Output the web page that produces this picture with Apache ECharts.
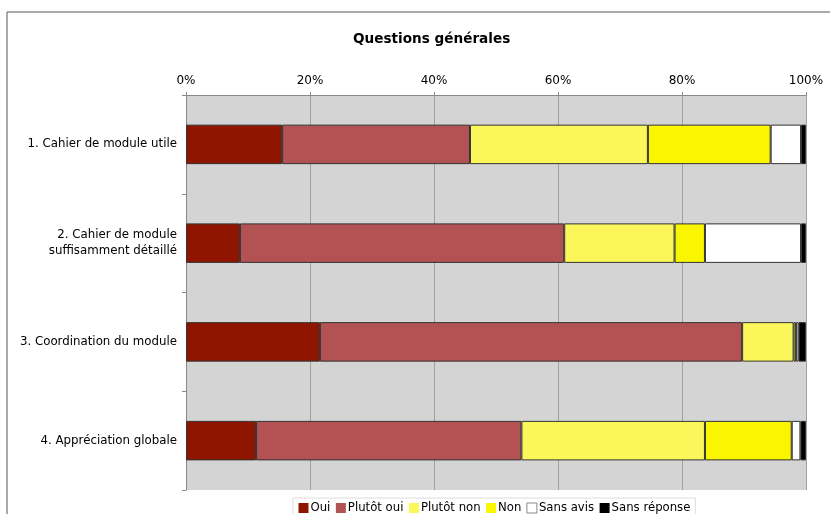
<!DOCTYPE html>
<html><head><meta charset="utf-8">
<script src="https://cdn.jsdelivr.net/npm/echarts@6/dist/echarts.min.js"></script>
<style>html,body{margin:0;padding:0;background:#fff}#c{width:830px;height:514px}</style>
</head><body><div id="c"></div>
<script>
const categories = ["1. Cahier de module utile", "2. Cahier de module\nsuffisamment détaillé", "3. Coordination du module", "4. Appréciation globale"];
const seriesNames = ["Oui", "Plutôt oui", "Plutôt non", "Non", "Sans avis", "Sans réponse"];
const oui = [15.5, 8.7, 21.6, 11.3];
const plutotOui = [30.3, 52.3, 68.1, 42.8];
const plutotNon = [28.7, 17.8, 8.3, 29.6];
const non = [19.8, 4.9, 0.4, 14.0];
const sansAvis = [4.9, 15.5, 0.4, 1.4];
const sansReponse = [0.8, 0.8, 1.2, 0.9];
const tickLabels = ["0%", "20%", "40%", "60%", "80%", "100%"];
const colors = ["#8f1500", "#b25252", "#fbf75a", "#faf600", "#ffffff", "#000000"];
const values = [oui, plutotOui, plutotNon, non, sansAvis, sansReponse];

const chart = echarts.init(document.getElementById('c'));
const font = 'DejaVu Sans, Verdana, sans-serif';
chart.setOption({
  animation: false,
  textStyle: {fontFamily: font},
  title: {text: 'Questions générales', left: 348, top: 27,
    textStyle: {fontSize: 13.6, fontWeight: 'bold', color: '#000', fontFamily: font}},
  graphic: [{type: 'polyline', shape: {points: [[7, 520], [7, 12], [840, 12]]},
    style: {stroke: '#555', lineWidth: 1, fill: null}}],
  legend: {bottom: -4, left: 293, itemWidth: 10, itemHeight: 10, itemGap: 5, icon: 'rect',
    borderColor: '#ddd', borderWidth: 1, padding: [4, 5],
    textStyle: {fontSize: 11.7, color: '#000', fontFamily: font, padding: [0, 0, 0, -3]},
    data: seriesNames.map((n, i) => ({name: n, itemStyle: {borderColor: i === 4 ? '#888' : 'transparent', borderWidth: 1}}))},
  grid: {left: 186, right: 24, top: 95, bottom: 24, show: true, backgroundColor: '#d4d4d4', borderWidth: 0},
  xAxis: {type: 'value', position: 'top', min: 0, max: 100, interval: 20,
    axisLine: {show: true, lineStyle: {color: '#888'}},
    axisTick: {show: true, length: 3, lineStyle: {color: '#888'}},
    axisLabel: {formatter: v => tickLabels[v / 20], color: '#000', fontSize: 12, margin: 8, fontFamily: font},
    splitLine: {show: true, lineStyle: {color: '#a0a0a0', width: 1}}},
  yAxis: {type: 'category', data: categories, inverse: true,
    axisLine: {show: true, lineStyle: {color: '#888'}},
    axisTick: {show: true, length: 4, lineStyle: {color: '#888'}},
    axisLabel: {color: '#000', fontSize: 11.8, margin: 9, fontFamily: font, lineHeight: 16, align: 'right'}},
  series: seriesNames.map((n, i) => ({
    name: n, type: 'bar', stack: 'a', barWidth: '40%', data: values[i],
    itemStyle: {color: colors[i], borderColor: '#333', borderWidth: 1}
  }))
});
</script></body></html>
